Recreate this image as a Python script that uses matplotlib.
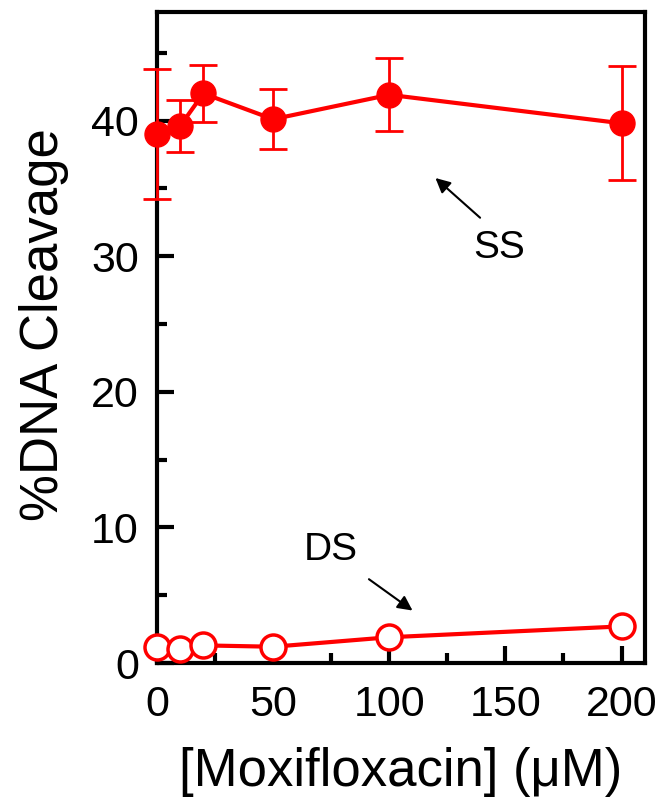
import matplotlib
matplotlib.use("Agg")
import matplotlib.pyplot as plt
from matplotlib.ticker import MultipleLocator

plt.rcParams['font.family'] = ['Liberation Sans', 'DejaVu Sans']

conc = [0, 10, 20, 50, 100, 200]
ss = [39.0, 39.6, 42.0, 40.1, 41.9, 39.8]
ss_err = [4.8, 1.9, 2.1, 2.2, 2.7, 4.2]
ds = [1.2, 1.0, 1.3, 1.2, 1.9, 2.7]

red = '#ff0000'
fig = plt.figure(figsize=(6.62, 8.06), dpi=100)
ax = fig.add_axes([0.237, 0.1774, 0.737, 0.8076])

ax.errorbar(conc, ss, yerr=ss_err, color=red, lw=3, marker='o', ms=18,
            mfc=red, mec=red, ecolor=red, elinewidth=2, capsize=10, capthick=2,
            clip_on=False, zorder=3)
ax.plot(conc, ds, color=red, lw=3, marker='o', ms=18, mfc='white', mec=red,
        mew=2.5, clip_on=False, zorder=3)

ax.set_xlim(0, 210)
ax.set_ylim(0, 48)
ax.xaxis.set_major_locator(MultipleLocator(50))
ax.xaxis.set_minor_locator(MultipleLocator(25))
ax.yaxis.set_major_locator(MultipleLocator(10))
ax.yaxis.set_minor_locator(MultipleLocator(5))
ax.tick_params(which='both', direction='in', width=3, labelsize=31)
ax.tick_params(axis='x', pad=16)
ax.tick_params(axis='y', pad=13)
ax.tick_params(which='major', length=12)
ax.tick_params(which='minor', length=7)
for s in ax.spines.values():
    s.set_linewidth(3)

ax.set_xlabel('[Moxifloxacin] (μM)', fontsize=38, labelpad=16)
ax.set_ylabel('%DNA Cleavage', fontsize=38, labelpad=16)
ax.yaxis.label.set_y(0.52)

ax.annotate('', xy=(119, 35.9), xytext=(140, 32.7),
            arrowprops=dict(arrowstyle='-|>', color='black', lw=1.5, mutation_scale=22))
ax.text(147.5, 30.6, 'SS', fontsize=28, ha='center', va='center')
ax.annotate('', xy=(111, 3.75), xytext=(90.3, 6.3),
            arrowprops=dict(arrowstyle='-|>', color='black', lw=1.5, mutation_scale=22))
ax.text(75, 8.3, 'DS', fontsize=28, ha='center', va='center')

fig.savefig('out.png', dpi=100)
